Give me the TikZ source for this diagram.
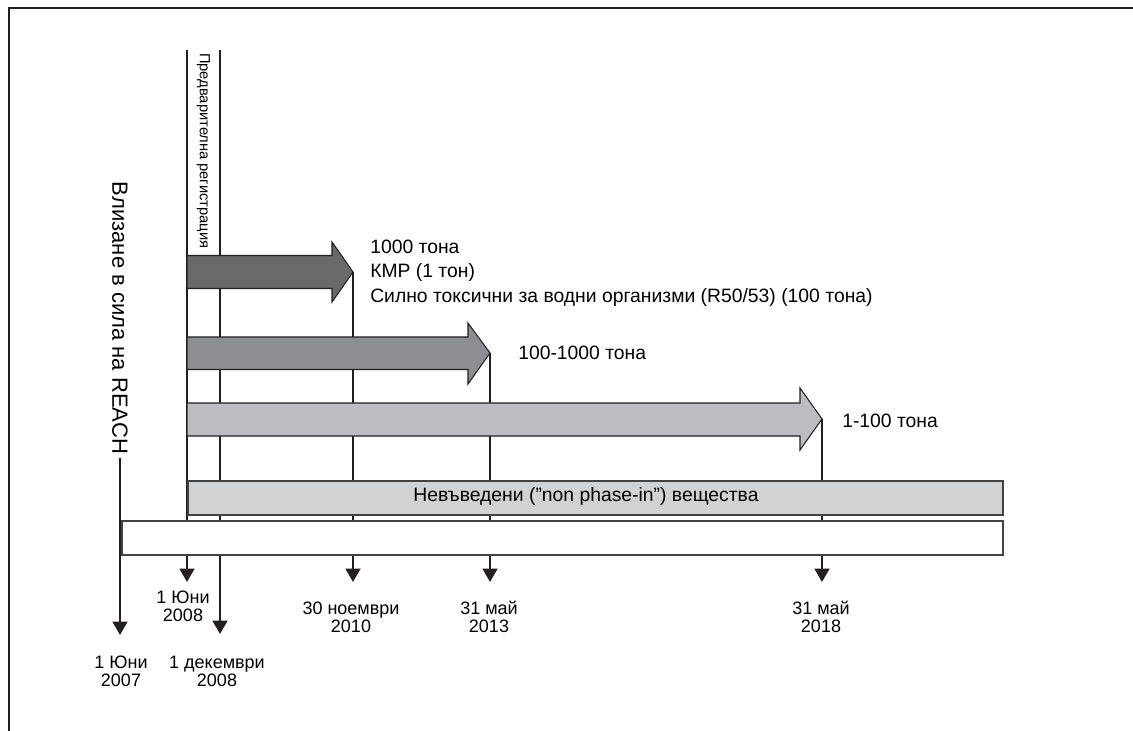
\documentclass[tikz,border=0pt]{standalone}
\usepackage{fontspec}
\setmainfont{Liberation Sans}
\usetikzlibrary{arrows.meta}
\definecolor{ink}{HTML}{231F20}
\definecolor{darkfill}{HTML}{68696B}
\definecolor{midfill}{HTML}{8D8E91}
\definecolor{lightfill}{HTML}{BCBDC0}
\definecolor{barfill}{HTML}{D1D2D4}
\begin{document}
\begin{tikzpicture}[x=0.75pt,y=-0.75pt,
  frame/.style={draw=ink, line width=1.9pt},
  timeline/.style={draw=ink, line width=1.9pt, -{Triangle[width=11pt,length=10pt]}},
  bigarrow/.style={draw=ink, line width=0.8pt},
  barbox/.style={draw=ink!85, line width=1.2pt, inner sep=0pt, anchor=north west, minimum height=25.5pt},
  lbl/.style={font=\fontsize{13.5}{13.5}\selectfont, align=center, inner sep=0pt},
  side/.style={font=\fontsize{14.5}{18.5}\selectfont, align=left, inner sep=0pt, anchor=west}]
\useasboundingbox (0,0) rectangle (1133,731);
% frame
\coordinate (fbl) at (9,731);
\coordinate (ftl) at (9,8);
\coordinate (ftr) at (1133,8);
\draw[frame] (fbl) -- (ftl) -- (ftr);

% coordinates
\coordinate (v1top) at (187,50);
\coordinate (v2top) at (220,50);
\coordinate (d1) at (187,582);
\coordinate (d2) at (220,634);
\coordinate (d3) at (353,582);
\coordinate (d4) at (490,582);
\coordinate (d5) at (822,582);
\coordinate (d0) at (120,635);
\coordinate (tip1) at (353,272);
\coordinate (tip2) at (490,353);
\coordinate (tip3) at (822,419);

% pre-registration label
\node[rotate=-90, anchor=west, inner sep=0pt, font=\fontsize{11}{12}\selectfont] (prereg) at (203.5,53) {Предварителна регистрация};

% vertical timelines
\draw[timeline] (v1top) -- (d1);
\draw[timeline] (v2top) -- (d2);
\draw[timeline] (tip1) -- (d3);
\draw[timeline] (tip2) -- (d4);
\draw[timeline] (tip3) -- (d5);

% REACH label and line
\node[rotate=-90, inner sep=0pt, font=\fontsize{16.5}{18}\selectfont] (reach) at (120,318) {Влизане в сила на REACH};
\draw[timeline] (reach.east) ++(0,4) -- (d0);

% big arrows
\draw[bigarrow, fill=darkfill] (187,255.5) -- (332,255.5) -- (332,242) -- (tip1) -- (332,302) -- (332,288.5) -- (187,288.5) -- cycle;
\draw[bigarrow, fill=midfill] (187,337) -- (468,337) -- (468,323) -- (tip2) -- (468,384) -- (468,369.5) -- (187,369.5) -- cycle;
\draw[bigarrow, fill=lightfill] (187,403) -- (800,403) -- (800,388) -- (tip3) -- (800,450) -- (800,436) -- (187,436) -- cycle;

% bars
\node[barbox, fill=barfill, minimum width=611.25pt] (phasebar) at (187,480) {};
\node[font=\fontsize{14.5}{15}\selectfont, inner sep=0pt] (phasetext) at (586,497) {Невъведени (”non phase-in”) вещества};
\node[barbox, fill=white, minimum width=660.75pt] (basebar) at (121,520) {};

% right labels
\node[side] (lab1) at (370,273) {1000 тона\\КМР (1 тон)\\Силно токсични за водни организми (R50/53) (100 тона)};
\node[side] (lab2) at (518,353) {100-1000 тона};
\node[side] (lab3) at (842,421) {1-100 тона};

% date labels
\node[lbl] (date1) at (183,606) {1 Юни\\2008};
\node[lbl] (date2) at (217,671) {1 декември\\2008};
\node[lbl] (date0) at (121,671) {1 Юни\\2007};
\node[lbl] (date3) at (351,617) {30 ноември\\2010};
\node[lbl] (date4) at (489,617) {31 май\\2013};
\node[lbl] (date5) at (821,617) {31 май\\2018};
\end{tikzpicture}
\end{document}
